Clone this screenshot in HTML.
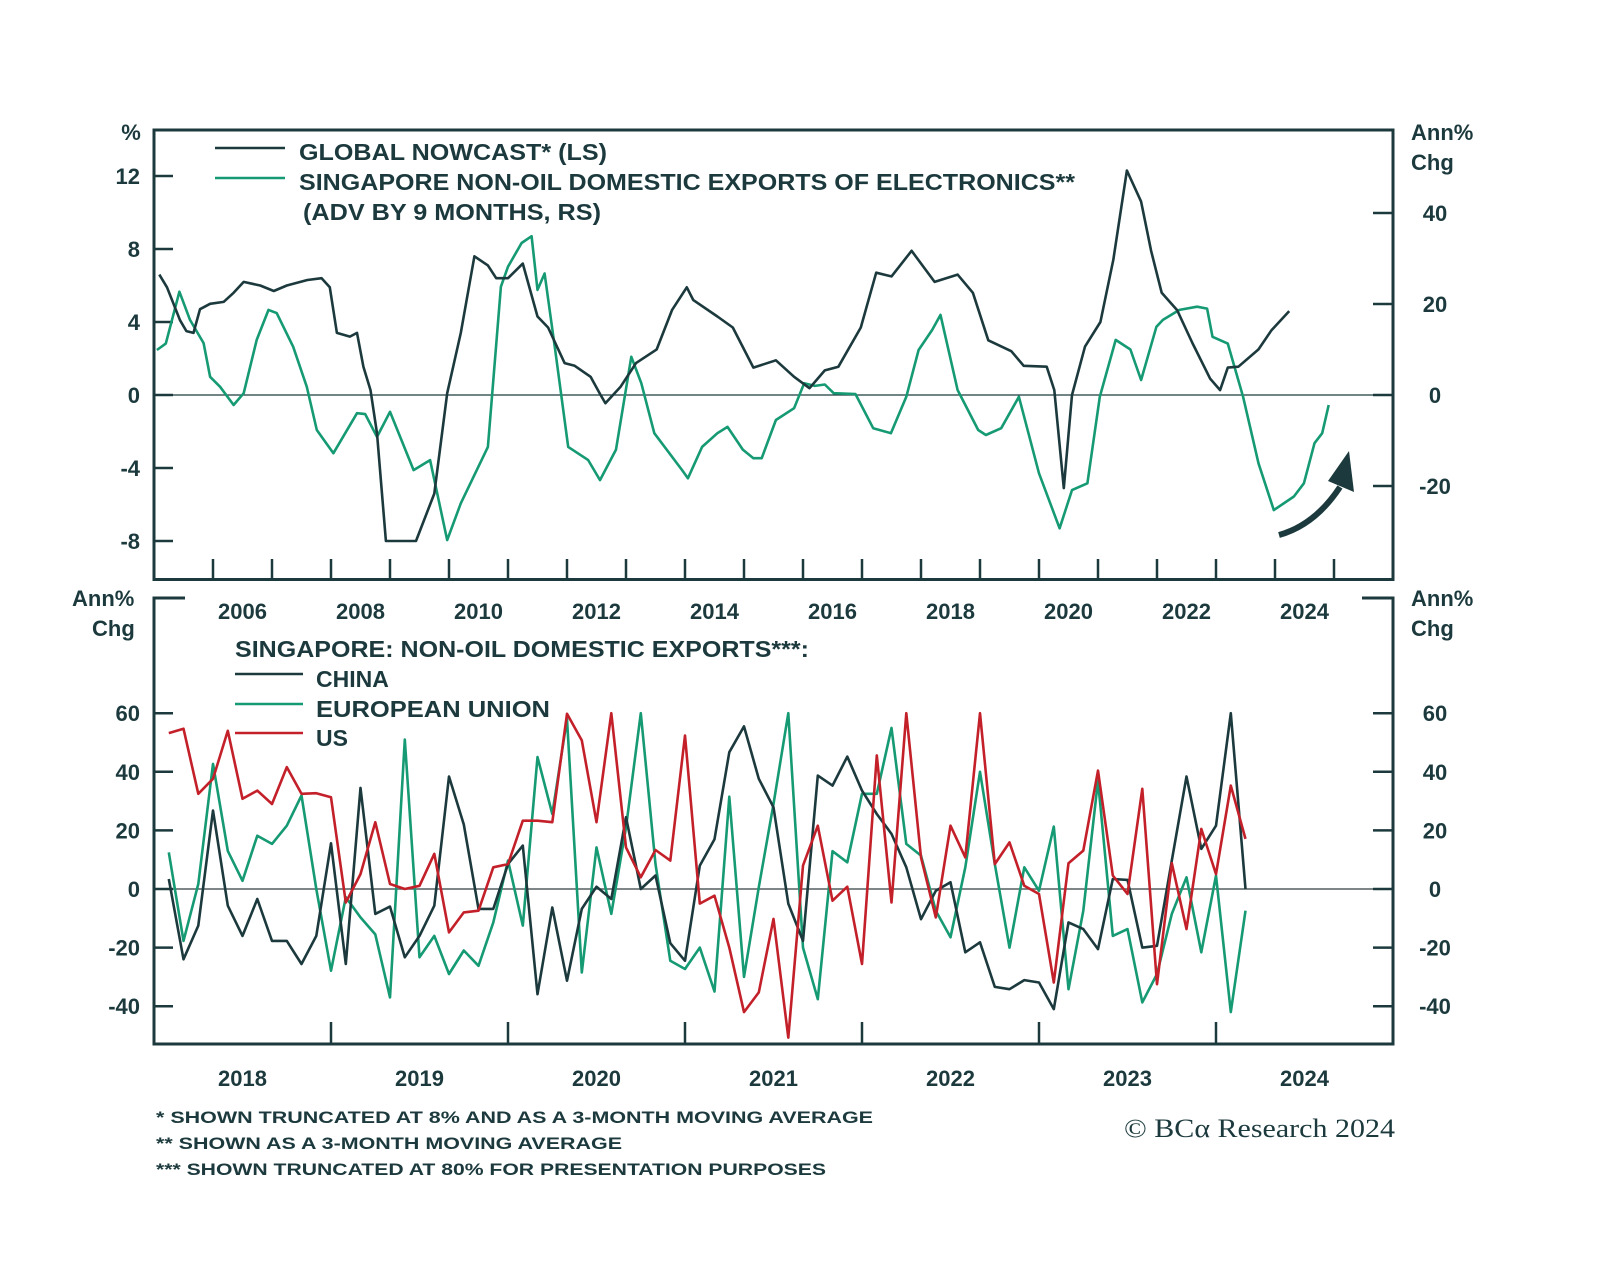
<!DOCTYPE html>
<html><head><meta charset="utf-8">
<style>
html,body{margin:0;padding:0;background:#fff;}
svg{display:block;}
text{font-family:"Liberation Sans",sans-serif;fill:#1c3a3d;font-weight:bold;}
</style></head>
<body>
<svg id="chart" width="1600" height="1261" viewBox="0 0 1600 1261" xmlns="http://www.w3.org/2000/svg">
<rect width="1600" height="1261" fill="#fff"/>
<g id="top-panel"></g>
<g id="bottom-panel"></g>
<g>
  <line x1="215" y1="148" x2="285" y2="148" stroke="#1c3a3d" stroke-width="2.5"/>
  <text x="299" y="160" font-size="23" textLength="308" lengthAdjust="spacingAndGlyphs">GLOBAL NOWCAST* (LS)</text>
  <line x1="215" y1="178" x2="285" y2="178" stroke="#169a73" stroke-width="2.5"/>
  <text x="299" y="190" font-size="23" textLength="776" lengthAdjust="spacingAndGlyphs">SINGAPORE NON-OIL DOMESTIC EXPORTS OF ELECTRONICS**</text>
  <text x="303" y="220" font-size="23" textLength="298" lengthAdjust="spacingAndGlyphs">(ADV BY 9 MONTHS, RS)</text>
</g>
<g>
  <text x="235" y="657" font-size="23" textLength="574" lengthAdjust="spacingAndGlyphs">SINGAPORE: NON-OIL DOMESTIC EXPORTS***:</text>
  <line x1="235" y1="674" x2="303" y2="674" stroke="#1c3a3d" stroke-width="2.5"/>
  <text x="316" y="687" font-size="23">CHINA</text>
  <line x1="235" y1="704" x2="303" y2="704" stroke="#169a73" stroke-width="2.5"/>
  <text x="316" y="717" font-size="23" textLength="234" lengthAdjust="spacingAndGlyphs">EUROPEAN UNION</text>
  <line x1="235" y1="733" x2="303" y2="733" stroke="#c3202a" stroke-width="2.5"/>
  <text x="316" y="746" font-size="23">US</text>
</g>
<g font-size="17">
  <text x="156" y="1123" font-size="17" textLength="717" lengthAdjust="spacingAndGlyphs">* SHOWN TRUNCATED AT 8% AND AS A 3-MONTH MOVING AVERAGE</text>
  <text x="156" y="1149" font-size="17" textLength="466" lengthAdjust="spacingAndGlyphs">** SHOWN AS A 3-MONTH MOVING AVERAGE</text>
  <text x="156" y="1175" font-size="17" textLength="670" lengthAdjust="spacingAndGlyphs">*** SHOWN TRUNCATED AT 80% FOR PRESENTATION PURPOSES</text>
</g>
<text x="1124" y="1137" font-size="26" style="font-family:'Liberation Serif',serif;font-weight:normal" textLength="271" lengthAdjust="spacingAndGlyphs">© BCα Research 2024</text>
<g>
  <path d="M1279,535 Q1315,525 1340,487" fill="none" stroke="#1c3a3d" stroke-width="6"/>
  <polygon points="1349,451 1328,481 1354,492" fill="#1c3a3d"/>
</g>
</svg>
<script>
// ---- Top chart data ----
const nowcastT = [2005.09,2005.22,2005.44,2005.55,2005.67,2005.78,2005.95,2006.18,2006.35,2006.52,2006.8,2007.03,2007.25,2007.6,2007.84,2007.98,2008.1,2008.32,2008.44,2008.55,2008.67,2008.78,2008.93,2009.44,2009.75,2009.97,2010.2,2010.43,2010.66,2010.8,2011.0,2011.25,2011.5,2011.68,2011.96,2012.13,2012.4,2012.57,2012.65,2012.91,2013.17,2013.52,2013.78,2014.03,2014.14,2014.55,2014.81,2015.16,2015.54,2015.85,2016.11,2016.37,2016.6,2016.98,2017.24,2017.5,2017.84,2018.23,2018.62,2018.88,2019.14,2019.53,2019.74,2020.13,2020.26,2020.42,2020.56,2020.78,2021.04,2021.26,2021.49,2021.73,2021.9,2022.08,2022.34,2022.6,2022.9,2023.07,2023.2,2023.38,2023.72,2023.94,2024.24];
const nowcastV = [6.6,5.9,4.1,3.5,3.4,4.7,5.0,5.1,5.6,6.2,6.0,5.7,6.0,6.3,6.4,5.9,3.4,3.2,3.4,1.55,0.27,-2.1,-8,-8,-5.4,0.1,3.4,7.6,7.1,6.4,6.4,7.2,4.3,3.7,1.75,1.6,1.0,0,-0.45,0.46,1.75,2.5,4.65,5.9,5.2,4.3,3.7,1.5,1.9,1.0,0.37,1.35,1.55,3.7,6.7,6.5,7.9,6.2,6.6,5.6,3.0,2.4,1.6,1.55,0.27,-5.1,0.0,2.65,4.0,7.4,12.3,10.6,7.9,5.6,4.65,2.85,0.9,0.27,1.5,1.55,2.5,3.55,4.6];
const elecT = [2005.05,2005.2,2005.43,2005.61,2005.84,2005.95,2006.12,2006.35,2006.52,2006.74,2006.94,2007.08,2007.36,2007.59,2007.76,2008.04,2008.44,2008.58,2008.78,2009.0,2009.4,2009.68,2009.97,2010.2,2010.66,2010.88,2011.0,2011.23,2011.4,2011.5,2011.62,2011.8,2012.02,2012.36,2012.56,2012.83,2013.09,2013.26,2013.48,2013.95,2014.05,2014.29,2014.55,2014.72,2014.98,2015.16,2015.3,2015.54,2015.85,2016.02,2016.2,2016.37,2016.52,2016.89,2017.19,2017.49,2017.75,2017.96,2018.19,2018.33,2018.62,2018.97,2019.1,2019.36,2019.66,2020.0,2020.35,2020.56,2020.82,2021.03,2021.3,2021.55,2021.73,2021.99,2022.1,2022.38,2022.68,2022.85,2022.94,2023.2,2023.46,2023.72,2023.98,2024.32,2024.49,2024.67,2024.8,2024.91];
const elecV = [9.9,11.3,22.7,16.5,11.4,4.0,1.8,-2.2,0.4,12.1,18.7,18.0,10.6,1.8,-7.7,-12.8,-4.0,-4.2,-9.2,-3.7,-16.5,-14.3,-31.9,-23.8,-11.4,23.8,28.2,33.4,34.9,23.1,26.7,9.9,-11.4,-14.3,-18.7,-12,8.4,2.6,-8.4,-16.5,-18.3,-11.4,-8.4,-7,-12,-13.9,-13.9,-5.5,-2.9,2.6,2.0,2.3,0.4,0.2,-7.3,-8.4,-0.4,9.9,14.3,17.6,1.1,-7.7,-8.8,-7.3,-0.4,-17.2,-29.3,-20.9,-19.4,-0.4,12.1,10.0,3.3,15.0,16.5,18.7,19.4,19,12.8,11.3,-0.4,-15,-25.3,-22.3,-19.4,-10.6,-8.4,-2.2];
const topYearLabels = ["2006","2008","2010","2012","2014","2016","2018","2020","2022","2024"];
const leftTicks = [12,8,4,0,-4,-8];
const rightTicks = [40,20,0,-20];

// ---- Bottom chart data (monthly, index 1 = Feb 2018) ----
const chinaV = [3.4,-24,-12.5,26.8,-5.7,-16,-3.4,-17.7,-17.7,-25.6,-16,15.6,-25.6,34.5,-8.5,-6,-23.3,-16,-5.7,38.4,22,-6.8,-6.8,8.5,14.8,-35.9,-6.3,-31.3,-6.8,0.8,-3.4,24.5,0,4.6,-18.5,-24.5,8,17,46.7,55.5,37.6,27.9,-5,-17.7,38.7,35.3,45.2,33.6,25.6,18.8,7.4,-10.3,-0.6,2.3,-21.6,-18.2,-33.4,-34.2,-31.1,-31.9,-41,-11.4,-13.7,-20.5,3.4,3.1,-20,-19.4,9.7,38.4,13.7,21.6,60,0];
const euV = [12.5,-17.7,1.7,42.7,13,2.8,18.2,15.4,21.6,31.9,0,-27.9,-2.8,-9.7,-15.5,-37,51,-23.3,-16,-29,-21,-26.2,-11.4,9.7,-12.5,45,25.6,58,-28.5,14.2,-8.5,21,60,8.5,-24.5,-27.3,-20,-35,31.5,-30,0.6,29,60,-20,-37.6,12.9,9.1,32.5,32.5,55,15.4,11.4,-7.4,-16.5,7.4,40,8.5,-20,7.4,-0.6,21.3,-34.2,-7.4,37,-16,-13.7,-38.7,-29,-8.5,4,-21.6,4.6,-42,-7.4];
const usV = [53.2,54.7,32.5,37.6,54,30.8,33.6,29,41.6,32.5,32.7,31.3,-4.6,5.1,22.8,1.7,0,1.1,12,-14.8,-8,-7.4,7.4,8.5,23.3,23.3,22.8,59.8,50.7,22.8,60,14.2,4,13.3,9.7,52.4,-5,-2.3,-20,-42,-35.3,-10.2,-50.7,8,21.6,-4,0.8,-25.6,45.6,-4.6,60,10.8,-9.7,21.6,10.8,60,8.5,15.9,1.1,-1.7,-31.9,8.8,13.1,40.4,4.6,-1.7,34.2,-32.5,8.8,-13.7,20.5,5.1,35.3,17.1];
const bottomYearLabels = ["2018","2019","2020","2021","2022","2023","2024"];
const bottomTicks = [60,40,20,0,-20,-40];

const NS = "http://www.w3.org/2000/svg";
const DARK = "#1c3a3d", GREEN = "#169a73", RED = "#c3202a";
function mk(tag, attrs, parent){const e=document.createElementNS(NS,tag);for(const k in attrs)e.setAttribute(k,attrs[k]);parent.appendChild(e);return e;}

const L=154, R=1393;
const tx = t => L + (t-2005)*(R-L)/21;
const tyL = v => 395 - v*18.25;
const tyR = v => 395 - v*4.55;
const bx = i => L + i*(R-L)/84;
const by = v => 889 - v*2.93;

const topG = document.getElementById('top-panel');
const z1 = mk('line',{x1:L,x2:R,y1:tyL(0),y2:tyL(0),stroke:DARK,'stroke-width':1.3},topG);


const f1 = mk('rect',{x:L,y:130,width:R-L,height:449.5,fill:'none',stroke:DARK,'stroke-width':3},topG);


leftTicks.forEach(v=>{
  const y=tyL(v);
  mk('line',{x1:L,x2:L+19,y1:y,y2:y,stroke:DARK,'stroke-width':2.5},topG);
  const t=mk('text',{x:140,y:y+8,'font-size':22,'text-anchor':'end'},topG);
  t.textContent=String(v);
  
  
});
rightTicks.forEach(v=>{
  const y=tyR(v);
  mk('line',{x1:R-20,x2:R,y1:y,y2:y,stroke:DARK,'stroke-width':2.5},topG);
  const t=mk('text',{x:1435,y:y+8,'font-size':22,'text-anchor':'middle'},topG);
  t.textContent=String(v);
  
  
});
for(let yr=2006; yr<=2025; yr++){
  mk('line',{x1:tx(yr),x2:tx(yr),y1:559,y2:579,stroke:DARK,'stroke-width':2.5},topG);
}
topYearLabels.forEach(s=>{
  const t=mk('text',{x:tx(+s+0.5),y:619,'font-size':22,'text-anchor':'middle'},topG);
  t.textContent=s;
  
  
});
const u1=mk('text',{x:131,y:140,'font-size':22,'text-anchor':'middle'},topG); u1.textContent='%';


const u2=mk('text',{x:1411,y:140,'font-size':22},topG); u2.textContent='Ann%';


const u3=mk('text',{x:1411,y:170,'font-size':22},topG); u3.textContent='Chg';



function line(parent, xs, ys, color, w){
  const d = xs.map((x,k)=>(k?'L':'M')+x.toFixed(1)+','+ys[k].toFixed(1)).join('');
  return mk('path',{d:d,fill:'none',stroke:color,'stroke-width':w,'stroke-linejoin':'round'},parent);
}
const pE = line(topG, elecT.map(tx), elecV.map(tyR), GREEN, 2.6);


const pN = line(topG, nowcastT.map(tx), nowcastV.map(tyL), DARK, 2.6);



const botG = document.getElementById('bottom-panel');
const z2 = mk('line',{x1:L,x2:R,y1:by(0),y2:by(0),stroke:'#555f60','stroke-width':1.5},botG);


const fb = mk('path',{d:`M${L+31},598 L${L},598 L${L},1044 L${R},1044 L${R},598 L${R-31},598`,fill:'none',stroke:DARK,'stroke-width':3},botG);


bottomTicks.forEach(v=>{
  const y=by(v);
  mk('line',{x1:L,x2:L+19,y1:y,y2:y,stroke:DARK,'stroke-width':2.5},botG);
  mk('line',{x1:R-20,x2:R,y1:y,y2:y,stroke:DARK,'stroke-width':2.5},botG);
  const t=mk('text',{x:140,y:y+8,'font-size':22,'text-anchor':'end'},botG);
  t.textContent=String(v);
  
  
  const t2=mk('text',{x:1435,y:y+8,'font-size':22,'text-anchor':'middle'},botG);
  t2.textContent=String(v);
  
  
});
for(let k=1;k<=6;k++){
  mk('line',{x1:bx(k*12),x2:bx(k*12),y1:1022,y2:1044,stroke:DARK,'stroke-width':2.5},botG);
}
bottomYearLabels.forEach((s,k)=>{
  const t=mk('text',{x:bx(k*12+6),y:1086,'font-size':22,'text-anchor':'middle'},botG);
  t.textContent=s;
  
  
});
[[72,'Ann%',606],[92,'Chg',636],[1411,'Ann%',606],[1411,'Chg',636]].forEach(a=>{
  const t=mk('text',{x:a[0],y:a[2],'font-size':22},botG);
  t.textContent=a[1];
  
  
});
const idx = arr => arr.map((v,k)=>bx(k+1));
const pEU = line(botG, idx(euV), euV.map(by), GREEN, 2.6);


const pCN = line(botG, idx(chinaV), chinaV.map(by), DARK, 2.6);


const pUS = line(botG, idx(usV), usV.map(by), RED, 2.6);


</script>
</body></html>
